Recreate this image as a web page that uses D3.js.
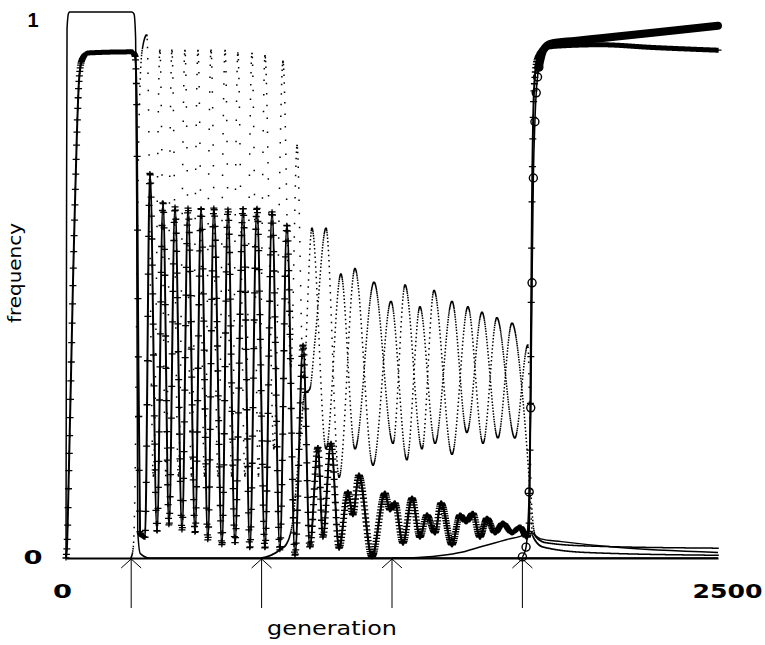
<!DOCTYPE html>
<html>
<head>
<meta charset="utf-8">
<script src="https://cdn.jsdelivr.net/npm/d3@7"></script>
<style>
  body { margin: 0; background: #fff; }
  svg { display: block; }
</style>
</head>
<body>
<div id="chart"></div>
<script>
// readings, every point is [generation, frequency]
const genTicks = [0, 2500];
const freqTicks = [0, 1];
const introGens = [250, 750, 1250, 1750];

// thin solid allele, fixed at 1 until the first invasion
const solidA = [[0, 0], [2, 0.6], [4, 0.97], [10, 0.998], [15, 1], [253, 1], [261, 0.996], [267, 0.95],
  [271, 0.66], [275, 0.05], [285, 0.008], [320, 0], [2500, 0]];

// "+" allele
const plusSeries = [[0, 0], [4, 0.024], [11, 0.16], [19, 0.33], [27, 0.51], [35, 0.66], [42, 0.78], [50, 0.875],
  [61, 0.912], [84, 0.925], [253, 0.927], [265, 0.919], [271, 0.84], [276, 0.47], [284, 0.046], [303, 0.038],
  [322, 0.705], [349, 0.048], [372, 0.652], [395, 0.06], [418, 0.643], [445, 0.051], [468, 0.641], [495, 0.046],
  [518, 0.641], [544, 0.033], [567, 0.641], [598, 0.024], [621, 0.639], [648, 0.027], [679, 0.641], [705, 0.018],
  [732, 0.641], [763, 0.018], [790, 0.634], [820, 0.015], [847, 0.61], [878, 0.005], [909, 0.39], [935, 0.02],
  [966, 0.203], [985, 0.038], [1016, 0.21], [1047, 0.018], [1081, 0.121], [1100, 0.079], [1123, 0.152],
  [1173, 0.002], [1223, 0.119], [1242, 0.088], [1261, 0.101], [1292, 0.027], [1327, 0.11], [1357, 0.038],
  [1384, 0.079], [1415, 0.046], [1438, 0.101], [1480, 0.024], [1511, 0.079], [1534, 0.066], [1560, 0.082],
  [1587, 0.038], [1614, 0.073], [1645, 0.046], [1675, 0.064], [1710, 0.046], [1741, 0.057], [1767, 0.038],
  [1775, 0.05], [1781, 0.3], [1787, 0.66], [1795, 0.86], [1808, 0.915], [1840, 0.935], [1900, 0.938],
  [2050, 0.94], [2250, 0.935], [2500, 0.93]];

// dotted allele introduced at 250
const dotsB = [[249, 0], [258, 0.02], [265, 0.15], [272, 0.5], [280, 0.8], [292, 0.93], [310, 0.958],
  [335, 0.15], [360, 0.93], [383, 0.15], [406, 0.93], [431, 0.15], [456, 0.93], [481, 0.15], [506, 0.93],
  [531, 0.15], [556, 0.93], [583, 0.15], [610, 0.93], [635, 0.15], [659, 0.925], [686, 0.15], [713, 0.925],
  [738, 0.15], [763, 0.92], [797, 0.2], [832, 0.91], [862, 0.35], [886, 0.756], [910, 0.33], [943, 0.604],
  [997, 0.2], [1054, 0.52], [1108, 0.2], [1181, 0.505], [1254, 0.21], [1300, 0.5], [1365, 0.2], [1411, 0.49],
  [1480, 0.19], [1541, 0.46], [1599, 0.21], [1652, 0.44], [1721, 0.22], [1771, 0.39], [1785, 0.1],
  [1800, 0.04], [1840, 0.028], [2000, 0.022], [2500, 0.018]];

// dotted allele introduced at 750
const dotsC = [[750, 0], [790, 0.006], [820, 0.015], [847, 0.027], [870, 0.07], [895, 0.2], [915, 0.3],
  [935, 0.31], [955, 0.4], [997, 0.604], [1047, 0.148], [1108, 0.53], [1177, 0.17], [1246, 0.47],
  [1307, 0.18], [1357, 0.46], [1415, 0.21], [1480, 0.47], [1537, 0.23], [1595, 0.45], [1656, 0.22],
  [1710, 0.43], [1750, 0.3], [1775, 0.15], [1790, 0.04], [1830, 0.02], [2000, 0.01], [2500, 0.005]];

// thin solid allele introduced at 1250
const solidD = [[1250, 0], [1350, 0.001], [1461, 0.006], [1530, 0.012], [1587, 0.02], [1640, 0.027],
  [1691, 0.034], [1752, 0.042], [1775, 0.05], [1790, 0.045], [1820, 0.035], [1900, 0.03], [2100, 0.02],
  [2500, 0.01]];

// "o" allele introduced at 1750: sweep with circles, then the heavy band
const circleRise = [[1750, 0.002], [1764, 0.02], [1776, 0.121], [1782, 0.275], [1787, 0.504], [1792, 0.696],
  [1798, 0.799], [1803, 0.852], [1808, 0.881], [1813, 0.899]];
const circleTail = [[1830, 0.93], [1860, 0.942], [1950, 0.947], [2050, 0.952], [2250, 0.962], [2500, 0.975]];

const width = 765, height = 645;
const svg = d3.select('#chart').append('svg')
  .attr('width', width)
  .attr('height', height);

const x = d3.scaleLinear().domain([0, 2500]).range([66, 718]);
const y = d3.scaleLinear().domain([0, 1]).range([558, 12]);

const line = d3.line()
  .x(function (d) { return x(d[0]); })
  .y(function (d) { return y(d[1]); })
  .curve(d3.curveMonotoneX);

// run the same curve into a recording context, then walk its bezier pieces
// and keep a point each time x has moved on by stepPx
function sampleByX(series, stepPx) {
  const segs = [];
  let cx = 0, cy = 0;
  const ctx = {
    moveTo: function (a, b) { cx = a; cy = b; },
    lineTo: function (a, b) { segs.push([cx, cy, cx, cy, a, b, a, b]); cx = a; cy = b; },
    bezierCurveTo: function (x1, y1, x2, y2, a, b) { segs.push([cx, cy, x1, y1, x2, y2, a, b]); cx = a; cy = b; },
    closePath: function () {}
  };
  d3.line().x(function (d) { return x(d[0]); }).y(function (d) { return y(d[1]); })
    .curve(d3.curveMonotoneX).context(ctx)(series);

  const out = [];
  let lastX = -Infinity;
  segs.forEach(function (s) {
    const len = Math.hypot(s[2] - s[0], s[3] - s[1]) + Math.hypot(s[4] - s[2], s[5] - s[3]) + Math.hypot(s[6] - s[4], s[7] - s[5]);
    const n = Math.max(2, Math.ceil(len / 0.5));
    for (let i = 0; i <= n; i++) {
      const t = i / n, u = 1 - t;
      const px = u * u * u * s[0] + 3 * u * u * t * s[2] + 3 * u * t * t * s[4] + t * t * t * s[6];
      const py = u * u * u * s[1] + 3 * u * u * t * s[3] + 3 * u * t * t * s[5] + t * t * t * s[7];
      if (px - lastX >= stepPx) {
        out.push([px, py]);
        lastX = px;
      }
    }
  });
  return out;
}

// x axis, just the baseline and the two end labels
const xAxis = d3.axisBottom(x).tickValues(genTicks).tickSize(0).tickPadding(26).tickFormat(d3.format('d'));
const gx = svg.append('g')
  .attr('transform', `translate(0, ${y(0)})`)
  .call(xAxis);
gx.select('.domain').attr('stroke-width', 2);
gx.selectAll('text')
  .attr('font-family', 'DejaVu Sans')
  .attr('font-weight', 'bold')
  .attr('font-size', 20)
  .attr('fill', '#000')
  .attr('dx', function (d) { return d === 0 ? -4 : 9; })
  .attr('textLength', function (d) { return d === 0 ? 19 : 70; })
  .attr('lengthAdjust', 'spacingAndGlyphs');

// y labels only
const yAxis = d3.axisLeft(y).tickValues(freqTicks).tickSize(0).tickFormat(d3.format('d'));
const gy = svg.append('g')
  .attr('transform', `translate(${x(0)}, 0)`)
  .call(yAxis);
gy.select('.domain').remove();
gy.selectAll('text')
  .attr('font-family', function (d) { return d === 1 ? 'Liberation Sans' : 'DejaVu Sans'; })
  .attr('font-weight', 'bold')
  .attr('font-size', 20)
  .attr('fill', '#000')
  .attr('text-anchor', 'middle')
  .attr('x', -33)
  .attr('y', function (d) { return d === 1 ? 8 : -1; })
  .attr('textLength', function (d) { return d === 0 ? 19 : null; })
  .attr('lengthAdjust', 'spacingAndGlyphs');

// arrows for the generations where a new allele enters
svg.selectAll('.arrow')
  .data(introGens)
  .enter().append('path')
  .attr('class', 'arrow')
  .attr('transform', function (d) { return `translate(${x(d)}, ${y(0) + 1})`; })
  .attr('d', 'M0,0V49M-10,9L0,0L10,9')
  .attr('fill', 'none')
  .attr('stroke', '#000')
  .attr('stroke-width', 1);

// dotted alleles, about one dot per generation
const genStep = x(1) - x(0);
[dotsB, dotsC].forEach(function (series) {
  const pts = sampleByX(series, genStep);
  svg.append('path')
    .attr('d', pts.map(function (p) { return `M${p[0] - 0.75},${p[1] - 0.75}h1.5v1.5h-1.5z`; }).join(''))
    .attr('fill', '#000');
});

// thin solid alleles
[solidA, solidD].forEach(function (series) {
  svg.append('path')
    .datum(series)
    .attr('d', line)
    .attr('fill', 'none')
    .attr('stroke', '#000')
    .attr('stroke-width', 1.5);
});

// "+" allele, line plus cross markers
svg.append('path')
  .datum(plusSeries)
  .attr('d', line)
  .attr('fill', 'none')
  .attr('stroke', '#000')
  .attr('stroke-width', 2);
const plusPts = sampleByX(plusSeries, 0.4);
svg.append('path')
  .attr('d', plusPts.map(function (p) { return `M${p[0] - 3.5},${p[1]}h7M${p[0]},${p[1] - 2.5}v5`; }).join(''))
  .attr('fill', 'none')
  .attr('stroke', '#000')
  .attr('stroke-width', 1.3);

// "o" allele
svg.append('path')
  .datum(circleRise.concat(circleTail))
  .attr('d', line)
  .attr('fill', 'none')
  .attr('stroke', '#000')
  .attr('stroke-width', 1.5);
svg.append('path')
  .datum(circleRise.slice(-1).concat(circleTail))
  .attr('d', line)
  .attr('fill', 'none')
  .attr('stroke', '#000')
  .attr('stroke-width', 8)
  .attr('stroke-linecap', 'round');
svg.selectAll('.dot')
  .data(circleRise)
  .enter().append('circle')
  .attr('class', 'dot')
  .attr('cx', function (d) { return x(d[0]); })
  .attr('cy', function (d) { return y(d[1]); })
  .attr('r', 4)
  .attr('fill', 'none')
  .attr('stroke', '#000')
  .attr('stroke-width', 1.4);

// axis titles
svg.append('text')
  .attr('x', 332)
  .attr('y', 635)
  .attr('text-anchor', 'middle')
  .attr('font-family', 'DejaVu Sans')
  .attr('font-size', 19)
  .attr('textLength', 130)
  .attr('lengthAdjust', 'spacingAndGlyphs')
  .text('generation');

svg.append('text')
  .attr('transform', 'translate(21, 273) rotate(-90)')
  .attr('text-anchor', 'middle')
  .attr('font-family', 'DejaVu Sans')
  .attr('font-size', 17)
  .attr('textLength', 100)
  .attr('lengthAdjust', 'spacingAndGlyphs')
  .text('frequency');
</script>
</body>
</html>
